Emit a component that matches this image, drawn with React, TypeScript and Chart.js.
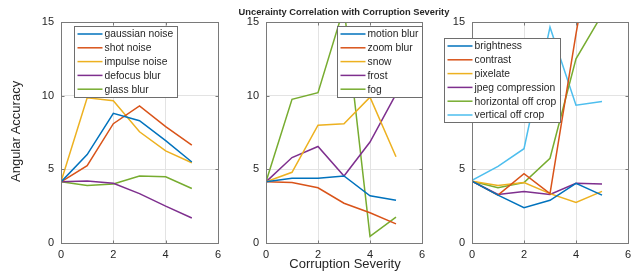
import React, { useEffect, useRef } from "react";
import { Chart, registerables } from "chart.js";

Chart.register(...registerables);

// ---------- data ----------
const severities = [0, 1, 2, 3, 4, 5];
const yTickValues = [0, 5, 10, 15];
const xTickValues = [0, 2, 4, 6];

const panel1Labels = ["gaussian noise", "shot noise", "impulse noise", "defocus blur", "glass blur"];
const gaussianNoise = [4.15, 6.0, 8.8, 8.3, 6.95, 5.5];
const shotNoise = [4.15, 5.25, 8.1, 9.3, 7.9, 6.65];
const impulseNoise = [4.15, 9.85, 9.65, 7.55, 6.25, 5.45];
const defocusBlur = [4.15, 4.2, 4.05, 3.35, 2.5, 1.7];
const glassBlur = [4.15, 3.9, 4.0, 4.55, 4.5, 3.7];

const panel2Labels = ["motion blur", "zoom blur", "snow", "frost", "fog"];
const motionBlur = [4.15, 4.4, 4.4, 4.55, 3.2, 2.9];
const zoomBlur = [4.15, 4.1, 3.75, 2.7, 2.05, 1.3];
const snow = [4.15, 4.8, 8.0, 8.1, 9.9, 5.85];
const frost = [4.15, 5.8, 6.55, 4.55, 6.85, 10.1];
const fog = [4.15, 9.75, 10.2, 16.0, 0.45, 1.75];

const panel3Labels = ["brightness", "contrast", "pixelate", "jpeg compression", "horizontal off crop", "vertical off crop"];
const brightness = [4.2, 3.25, 2.4, 2.9, 4.05, 3.25];
const contrast = [4.2, 3.25, 4.7, 3.35, 14.2, 24.0];
const pixelate = [4.2, 3.9, 4.1, 3.35, 2.75, 3.5];
const jpegCompression = [4.2, 3.3, 3.5, 3.3, 4.05, 4.0];
const horizontalOffCrop = [4.2, 3.75, 4.1, 5.75, 12.5, 15.5];
const verticalOffCrop = [4.25, 5.2, 6.4, 14.65, 9.35, 9.6];

const titleText = "Uncerainty Correlation with Corruption Severity";
const xAxisTitle = "Corruption Severity";
const yAxisTitle = "Angular Accuracy";

// ---------- styles ----------
const COLORS = ["#0072BD", "#D95319", "#EDB120", "#7E2F8E", "#77AC30", "#4DBEEE"];
const FONT = '"Liberation Sans", Arial, Helvetica, sans-serif';
const TEXT_COLOR = "#262626";
const W = 631;
const H = 271;
const AREA_TOP = 22;
const AREA_BOTTOM = 243;
const Y_AXIS_W = 40;
const X_AXIS_H = 20;

const frameLegendPlugin = {
  id: "frameLegend",
  afterDraw(chart: any, _args: any, opts: any) {
    const { ctx, chartArea: a } = chart;
    const xs = chart.scales.x;
    const ys = chart.scales.y;
    ctx.save();
    ctx.strokeStyle = "#7a7a7a";
    ctx.lineWidth = 1;
    ctx.beginPath();
    const L = Math.round(a.left) + 0.5;
    const R = Math.round(a.right) + 0.5;
    const T = Math.round(a.top) + 0.5;
    const B = Math.round(a.bottom) + 0.5;
    xs.ticks.forEach((t: any) => {
      const px = Math.round(xs.getPixelForValue(t.value)) + 0.5;
      ctx.moveTo(px, B);
      ctx.lineTo(px, B - 3);
      ctx.moveTo(px, T);
      ctx.lineTo(px, T + 3);
    });
    ys.ticks.forEach((t: any) => {
      const py = Math.round(ys.getPixelForValue(t.value)) + 0.5;
      ctx.moveTo(L, py);
      ctx.lineTo(L + 3, py);
      ctx.moveTo(R, py);
      ctx.lineTo(R - 3, py);
    });
    ctx.stroke();
    ctx.strokeRect(L, T, R - L, B - T);

    // legend
    const ds = chart.data.datasets;
    ctx.font = `10.3px ${FONT}`;
    const textW = Math.max(...ds.map((d: any) => ctx.measureText(d.label).width));
    const rowH = 13.8;
    const w = Math.round(3 + 25 + 2 + textW + 4);
    const h = Math.round(ds.length * rowH + 1.5);
    const x0 = Math.round(opts.anchor === "right" ? a.right - w : a.left + opts.dx) + 0.5;
    const y0 = Math.round(a.top + opts.dy) + 0.5;
    ctx.fillStyle = "#ffffff";
    ctx.fillRect(x0, y0, w, h);
    ctx.strokeStyle = "#6e6e6e";
    ctx.strokeRect(x0, y0, w, h);
    ctx.textBaseline = "middle";
    ctx.textAlign = "left";
    ds.forEach((d: any, i: number) => {
      const y = y0 + 7.5 + i * rowH;
      ctx.strokeStyle = d.borderColor;
      ctx.lineWidth = 1.5;
      ctx.beginPath();
      ctx.moveTo(x0 + 3, y);
      ctx.lineTo(x0 + 28, y);
      ctx.stroke();
      ctx.fillStyle = TEXT_COLOR;
      ctx.fillText(d.label, x0 + 30, y + 0.5);
    });
    ctx.restore();
  },
};

type PanelProps = {
  labels: string[];
  series: number[][];
  left: number;
  right: number;
  legend: { anchor: string; dx: number; dy: number };
};

function Panel({ labels, series, left, right, legend }: PanelProps) {
  const ref = useRef<HTMLCanvasElement | null>(null);
  useEffect(() => {
    if (!ref.current) return;
    const chart = new Chart(ref.current, {
      type: "line",
      data: {
        datasets: series.map((vals, i) => ({
          label: labels[i],
          data: vals.map((v, j) => ({ x: severities[j], y: v })),
          borderColor: COLORS[i],
          backgroundColor: COLORS[i],
          borderWidth: 1.5,
          pointRadius: 0,
          tension: 0,
          fill: false,
        })),
      },
      options: {
        responsive: false,
        animation: false,
        devicePixelRatio: 1,
        layout: {
          autoPadding: false,
          padding: {
            left: left - Y_AXIS_W,
            right: W - right,
            top: AREA_TOP,
            bottom: H - AREA_BOTTOM - X_AXIS_H,
          },
        },
        plugins: {
          legend: { display: false },
          title: { display: false },
          tooltip: { enabled: false },
          frameLegend: legend,
        } as any,
        scales: {
          x: {
            type: "linear",
            min: 0,
            max: 6,
            afterBuildTicks: (s: any) => {
              s.ticks = xTickValues.map((v) => ({ value: v }));
            },
            afterFit: (s: any) => {
              s.height = X_AXIS_H;
              s.paddingLeft = 0;
              s.paddingRight = 0;
            },
            grid: { color: "#e3e3e3", drawTicks: false, lineWidth: 1 },
            border: { display: false },
            ticks: {
              padding: 5,
              maxRotation: 0,
              color: TEXT_COLOR,
              font: { family: FONT, size: 11 },
            },
          },
          y: {
            type: "linear",
            min: 0,
            max: 15,
            afterBuildTicks: (s: any) => {
              s.ticks = yTickValues.map((v) => ({ value: v }));
            },
            afterFit: (s: any) => {
              s.width = Y_AXIS_W;
              s.paddingTop = 0;
              s.paddingBottom = 0;
            },
            grid: { color: "#e3e3e3", drawTicks: false, lineWidth: 1 },
            border: { display: false },
            ticks: {
              padding: 7,
              color: TEXT_COLOR,
              font: { family: FONT, size: 11 },
            },
          },
        },
      } as any,
      plugins: [frameLegendPlugin as any],
    });
    return () => chart.destroy();
  }, []);
  return (
    <canvas
      ref={ref}
      width={W}
      height={H}
      style={{ position: "absolute", left: 0, top: 0, width: W, height: H }}
    />
  );
}

export default function App() {
  return (
    <div
      style={{
        position: "absolute",
        left: 0,
        top: 0,
        width: W,
        height: H,
        overflow: "hidden",
        background: "#ffffff",
        fontFamily: FONT,
        color: TEXT_COLOR,
      }}
    >
      <Panel
        labels={panel1Labels}
        series={[gaussianNoise, shotNoise, impulseNoise, defocusBlur, glassBlur]}
        left={61}
        right={218}
        legend={{ anchor: "left", dx: 13, dy: 4 }}
      />
      <Panel
        labels={panel2Labels}
        series={[motionBlur, zoomBlur, snow, frost, fog]}
        left={266}
        right={422}
        legend={{ anchor: "right", dx: 0, dy: 4 }}
      />
      <Panel
        labels={panel3Labels}
        series={[brightness, contrast, pixelate, jpegCompression, horizontalOffCrop, verticalOffCrop]}
        left={472}
        right={628}
        legend={{ anchor: "left", dx: -28.5, dy: 16 }}
      />
      <div
        style={{
          position: "absolute",
          left: 144,
          width: 400,
          top: 7,
          height: 11,
          textAlign: "center",
          whiteSpace: "nowrap",
          fontWeight: "bold",
          fontSize: 9.3,
          lineHeight: "11px",
        }}
      >
        {titleText}
      </div>
      <div
        style={{
          position: "absolute",
          left: 245,
          width: 200,
          top: 256,
          height: 15,
          textAlign: "center",
          whiteSpace: "nowrap",
          fontSize: 13,
          lineHeight: "15px",
        }}
      >
        {xAxisTitle}
      </div>
      <div
        style={{
          position: "absolute",
          left: 8,
          top: 0,
          width: 15,
          height: 262,
          writingMode: "vertical-rl",
          transform: "rotate(180deg)",
          textAlign: "center",
          whiteSpace: "nowrap",
          fontSize: 13,
          lineHeight: "15px",
        }}
      >
        {yAxisTitle}
      </div>
    </div>
  );
}
